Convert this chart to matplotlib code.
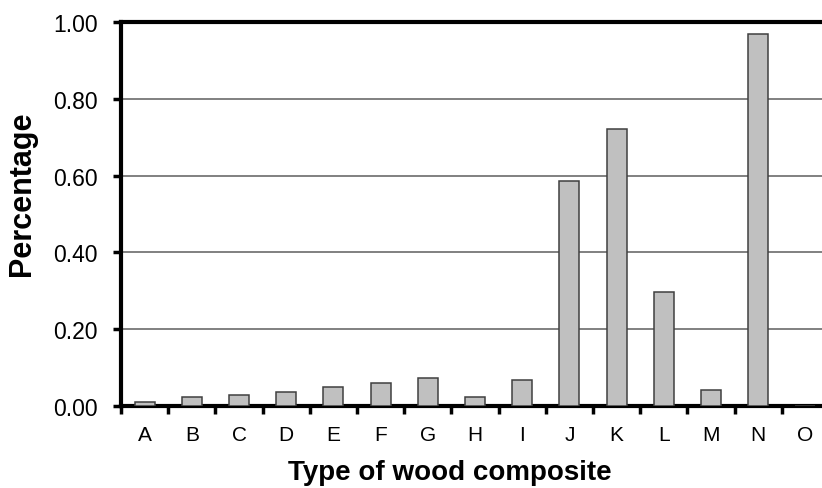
import matplotlib
matplotlib.use("Agg")
import matplotlib.pyplot as plt
import numpy as np

categories = ["A", "B", "C", "D", "E", "F", "G", "H", "I", "J", "K", "L", "M", "N", "O"]
values = [0.010, 0.024, 0.028, 0.037, 0.049, 0.060, 0.073, 0.023, 0.067,
          0.587, 0.721, 0.296, 0.042, 0.970, 0.0]
yticks = [0.0, 0.2, 0.4, 0.6, 0.8, 1.0]
ytick_labels = ["0.00", "0.20", "0.40", "0.60", "0.80", "1.00"]

plt.rcParams['font.family'] = ['Liberation Sans', 'DejaVu Sans']

W, H = 822, 489
fig = plt.figure(figsize=(W / 100, H / 100), dpi=100)
left, right, top, bottom = 121, 829, 23, 407
ax = fig.add_axes([left / W, 1 - bottom / H, (right - left) / W, (bottom - top) / H])

x = np.arange(len(categories)) + 0.5
ax.bar(x, values, width=0.42, color="#c0c0c0", edgecolor="#404040", linewidth=1.1, zorder=3)

ax.set_xlim(0, len(categories))
ax.set_ylim(0, 1.0)
ax.set_yticks(yticks)
ax.set_yticklabels(ytick_labels, fontsize=16.5)
ax.yaxis.grid(True, color="#808080", linewidth=1.4, zorder=0)
ax.set_axisbelow(True)

ax.set_xticks(np.arange(len(categories) + 1))
ax.set_xticklabels([])
ax.set_xticks(x, minor=True)
ax.set_xticklabels(categories, minor=True, fontsize=15)
ax.tick_params(axis='x', which='minor', length=0, pad=14)
ax.tick_params(axis='x', which='major', direction='out', length=6, width=2.5, color='black')
ax.tick_params(axis='y', direction='out', length=6, width=2.5, color='black', pad=11)

for side in ['left', 'bottom', 'top']:
    ax.spines[side].set_linewidth(3)
    ax.spines[side].set_color('black')
ax.spines['right'].set_visible(False)

ax.set_xlabel("Type of wood composite", fontsize=20, fontweight='bold')
ax.xaxis.set_label_coords((450 - left) / (right - left), -(473 - bottom) / (bottom - top), transform=ax.transAxes)
ax.set_ylabel("Percentage", fontsize=22, fontweight='bold')
ax.yaxis.set_label_coords(-(121 - 22) / (right - left), (bottom - 194) / (bottom - top), transform=ax.transAxes)
ax.xaxis.label.set_va('center')
ax.yaxis.label.set_va('center')

fig.savefig("out.png", dpi=100)
